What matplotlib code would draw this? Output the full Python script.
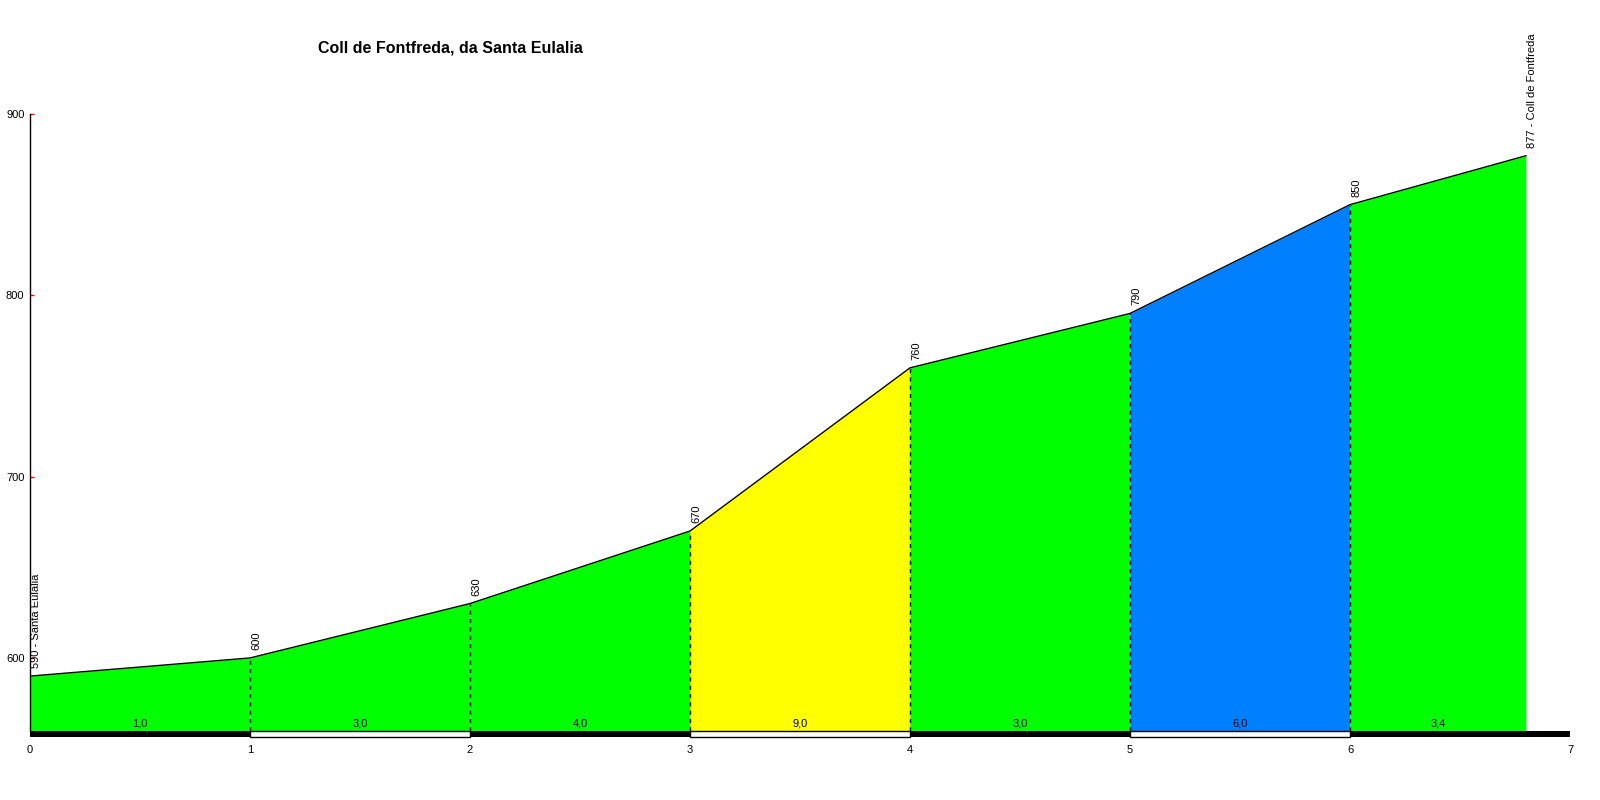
import matplotlib.pyplot as plt
from matplotlib.patches import Rectangle
import matplotlib.transforms as mtransforms

# Data
km = [0, 1, 2, 3, 4, 5, 6, 6.8]
quota = [590, 600, 630, 670, 760, 790, 850, 877]
pendenza = ['1,0', '3,0', '4,0', '9,0', '3,0', '6,0', '3,4']
colori = ['#00ff00', '#00ff00', '#00ff00', '#ffff00', '#00ff00', '#0080ff', '#00ff00']
etichette = ['590 - Santa Eulalia', '600', '630', '670', '760', '790', '850', '877 - Coll de Fontfreda']
titolo = "Coll de Fontfreda, da Santa Eulalia"
yticks = [600, 700, 800, 900]
xticks = [0, 1, 2, 3, 4, 5, 6, 7]

plt.rcParams['font.family'] = ['Liberation Sans', 'DejaVu Sans']

base = 559.7
fig = plt.figure(figsize=(16, 8), dpi=100)
# assi: x da 30 a 1570 px, y da 737 a 114 px
ax = fig.add_axes([30 / 1600, (800 - 737) / 800, 1540 / 1600, (737 - 114) / 800])
ax.set_xlim(0, 7)
ax.set_ylim(556.4, 900)

# riempimento per tratto
for i in range(len(km) - 1):
    ax.fill_between([km[i], km[i + 1]], [quota[i], quota[i + 1]], base,
                    color=colori[i], linewidth=0, zorder=1)
    ax.text((km[i] + km[i + 1]) / 2, base + 1.5, pendenza[i], ha='center', va='bottom',
            fontsize=8, zorder=4)

ax.plot(km, quota, color='black', linewidth=1, zorder=3)

# linee tratteggiate
for i in range(1, len(km) - 1):
    ax.plot([km[i], km[i]], [base, quota[i]], color='black', linestyle=(0, (3, 3)),
            linewidth=1, zorder=2)

# etichette verticali
for i in range(len(km)):
    off = mtransforms.offset_copy(ax.transData, fig=fig, x=1, y=8, units='dots')
    ax.text(km[i], quota[i], etichette[i], rotation=90, ha='left', va='bottom',
            fontsize=8, transform=off, clip_on=False, zorder=4)

# barra km in basso
h = base - 556.4
for k in range(7):
    if k % 2 == 0:
        ax.add_patch(Rectangle((k, 556.4), 1, h, facecolor='black', edgecolor='black',
                               linewidth=0, zorder=5, clip_on=False))
    else:
        ax.add_patch(Rectangle((k, 556.4), 1, h, facecolor='white', edgecolor='black',
                               linewidth=1, zorder=5, clip_on=False))

for s in ['top', 'right', 'bottom']:
    ax.spines[s].set_visible(False)
ax.spines['left'].set_bounds(base, 900)
ax.spines['left'].set_linewidth(1)

ax.set_yticks(yticks)
ax.set_yticklabels([str(v) for v in yticks], fontsize=8)
ax.tick_params(axis='y', direction='in', length=3, color='red', width=1, pad=4)
ax.set_xticks(xticks)
ax.set_xticklabels([str(v) for v in xticks], fontsize=8)
ax.tick_params(axis='x', length=0, pad=6)

fig.text(450 / 1600, 1 - 48 / 800, titolo, ha='center', va='center', fontsize=11.5,
         fontweight='bold')

fig.savefig('out.png', dpi=100)
